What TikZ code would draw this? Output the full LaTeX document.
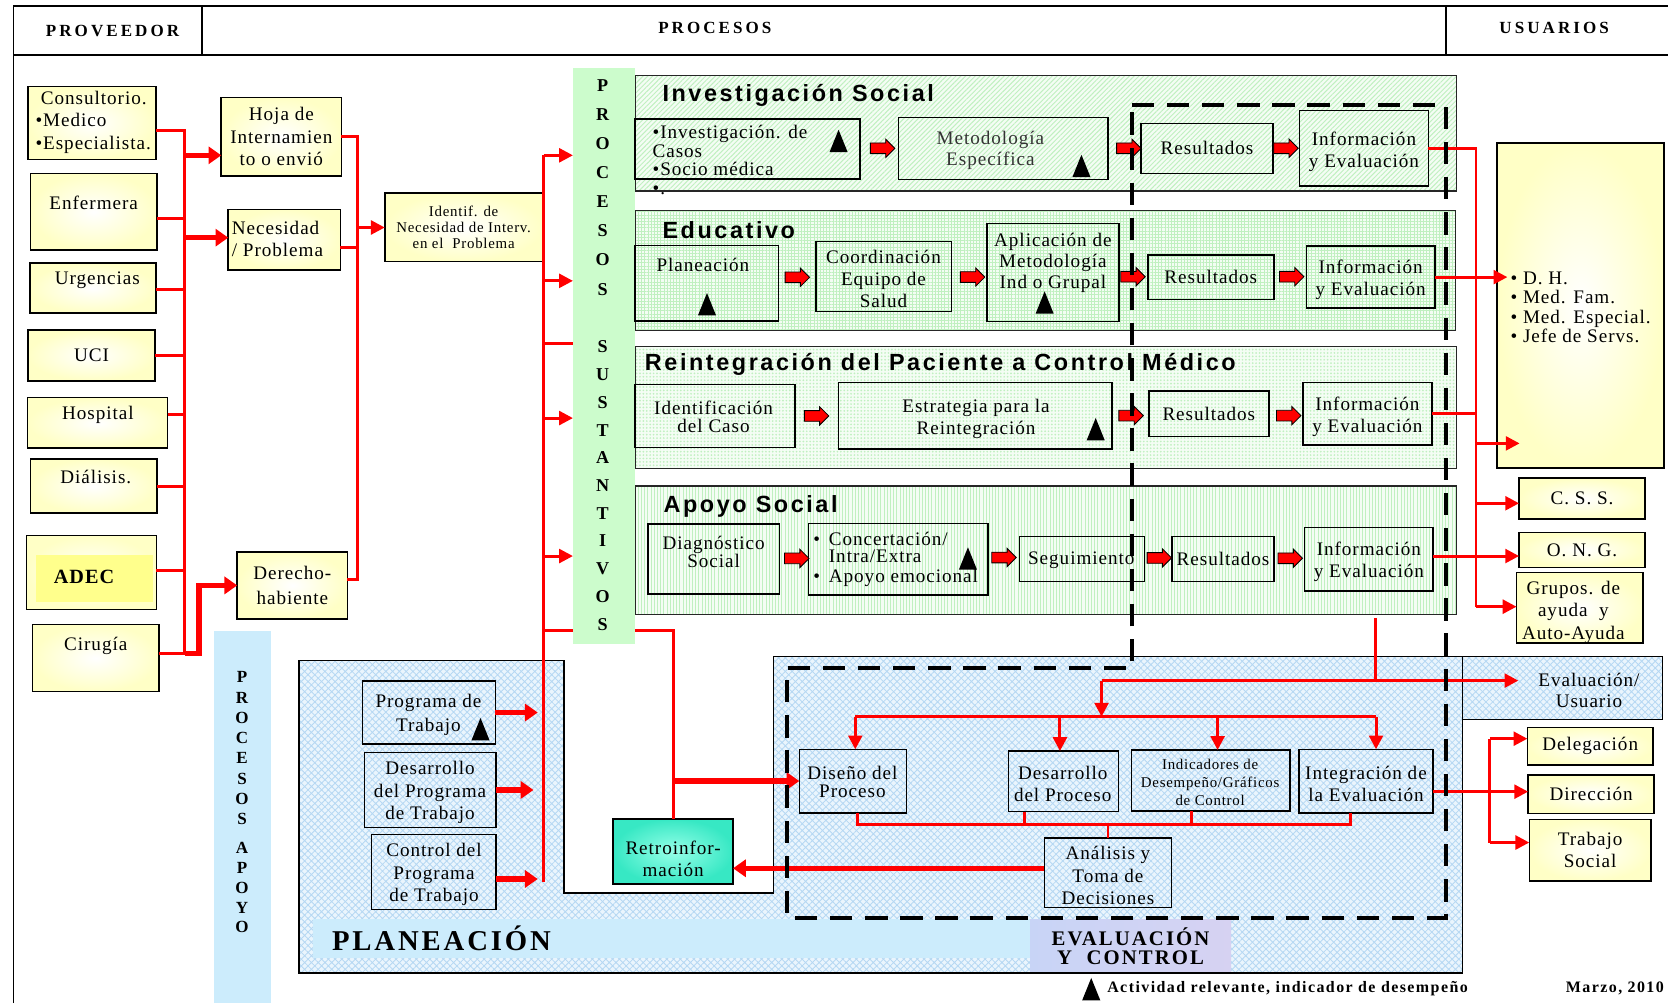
\documentclass[tikz,border=0pt]{standalone}
\usepackage{fontspec}
\setmainfont{Liberation Serif}[LetterSpace=5]
\newfontfamily\hdfont{Liberation Serif}[LetterSpace=18]
\newfontfamily\bigfont{Liberation Serif}[LetterSpace=10]
\newfontfamily\notefont{Liberation Serif}[LetterSpace=9]
\newfontfamily\titlefont{Liberation Sans}[LetterSpace=11]
\usetikzlibrary{arrows.meta,shapes.arrows,patterns.meta,calc}

\definecolor{ylw}{RGB}{255,255,198}
\definecolor{adecy}{RGB}{255,255,140}
\definecolor{bandg}{RGB}{204,252,204}
\definecolor{bandb}{RGB}{204,236,252}
\definecolor{hatchg}{RGB}{192,240,192}
\definecolor{paleg}{RGB}{244,253,244}
\definecolor{hatchb}{RGB}{182,216,243}
\definecolor{paleb}{RGB}{234,245,253}
\definecolor{mint}{RGB}{150,255,232}
\definecolor{tealx}{RGB}{55,232,196}
\definecolor{lavA}{RGB}{200,212,246}
\definecolor{lavB}{RGB}{214,210,242}
\definecolor{redl}{RGB}{255,0,0}

\newcommand\fz[2]{\fontsize{#1}{#2}\selectfont}
% box given by its corners: options, name, x1, y1, x2, y2, text
\newcommand\rbox[7][]{%
  \node[minimum width={(#5)-(#3)}, minimum height={(#6)-(#4)}, #1]
    (#2) at ({((#3)+(#5))/2},{((#4)+(#6))/2}) {#7};}

\begin{document}
\begin{tikzpicture}[x=1pt,y=-1pt,
  every node/.style={inner sep=0pt,outer sep=0pt},
  ybox/.style={draw=black,line width=1.5pt,inner color=white,outer color=ylw},
  wbox/.style={draw=black,line width=1.5pt},
  tx/.style={align=center,font=\fz{18}{21}},
  rowbox/.style={draw=black!85,line width=1.3pt},
  hatchblue/.style={preaction={fill=paleb},pattern={Hatch[angle=45,distance=4.5pt,line width=0.8pt]},pattern color=hatchb},
  rl/.style={draw=redl,line width=2.8pt},
  rlt/.style={draw=redl,line width=5pt},
  arr/.style={-{Triangle[length=13pt,width=13pt]}},
  arrt/.style={-{Triangle[length=12pt,width=16pt]}},
  blk/.style={single arrow,draw=black,line width=0.8pt,fill=redl,minimum height=23pt,
    inner xsep=0pt,inner ysep=4.6pt,single arrow head extend=3.6pt,single arrow head indent=0pt},
  dsh/.style={draw=black,line width=3.8pt,dash pattern=on 21pt off 12pt},
  hdr/.style={font=\hdfont\bfseries\fz{16}{18}},
  ttl/.style={anchor=west,font=\titlefont\bfseries\fz{22}{24}}]

\useasboundingbox (0,0) rectangle (1568,943);
\fill[white] (0,0) rectangle (1568,943);

% ---------- header frame ----------
\draw[line width=1.5pt] (12.6,943) -- (12.6,5.5) -- (1568,5.5);
\draw[line width=1.5pt] (12.6,51.7) -- (1568,51.7);
\draw[line width=1.5pt] (190,5.5) -- (190,51.7);
\draw[line width=1.5pt] (1359.5,5.5) -- (1359.5,51.7);
\node[hdr] (hprov) at (105.8,28.8) {PROVEEDOR};
\node[hdr] (hproc) at (672,26.5) {PROCESOS};
\node[hdr] (husr) at (1461,26.6) {USUARIOS};

% ---------- process rows ----------
\rbox[rowbox,preaction={fill=paleg},pattern={Lines[angle=45,distance=3.2pt,line width=0.9pt]},pattern color=hatchg]{row1}{597}{71.1}{1369.3}{179.5}{}
\rbox[rowbox,preaction={fill=paleg},pattern={Hatch[angle=0,distance=3pt,line width=0.5pt]},pattern color=hatchg]{row2}{597}{198}{1368.4}{310.5}{}
\rbox[rowbox,preaction={fill=paleg},pattern={Dots[distance=3.2pt,radius=0.9pt]},pattern color=hatchg]{row3}{597}{325.5}{1369.3}{440.2}{}
\rbox[rowbox,preaction={fill=paleg},pattern={Lines[angle=90,distance=3pt,line width=0.8pt]},pattern color=hatchg]{row4}{597}{456.7}{1369}{577.5}{}
\node[ttl] (t1) at (622.8,89.5) {Investigación Social};
\node[ttl] (t2) at (622.8,216.2) {Educativo};
\node[ttl] (t3) at (606.3,342.5) {Reintegración del Paciente a Control Médico};
\node[ttl] (t4) at (623.8,476.5) {Apoyo Social};

% ---------- planning / evaluation area ----------
\path[draw=black,line width=1.4pt,hatchblue]
  (281,621) -- (530,621) -- (530,839.5) -- (727,839.5) -- (727,617.3)
  -- (1374.6,617.3) -- (1374.6,914.6) -- (281,914.6) -- cycle;
\rbox[draw=black,line width=1.4pt,hatchblue]{evu}{1374.6}{617.3}{1563}{676.2}{}
\node[tx,font=\fz{18}{20.4}] (evu-t) at (1493.7,649) {Evaluación/\\Usuario};
\rbox[fill=bandb]{plband}{294.1}{863.9}{968.3}{900.9}{}
\node[anchor=west,font=\bigfont\bfseries\fz{27}{30}] (plt) at (312.1,882) {PLANEACIÓN};
\rbox[left color=lavA,right color=lavB]{evband}{968.3}{864.8}{1157.2}{913.4}{}
\node[align=center,font=\bigfont\bfseries\fz{19.5}{17.2}] (evt) at (1062.7,889.5) {EVALUACIÓN\\Y\ \ CONTROL};

% ---------- vertical bands ----------
\rbox[fill=bandg]{gband}{538.6}{64.2}{597}{605.7}{}
\node[align=center,font=\bfseries\fz{17}{27.4}] (gtxt1) at (566.5,176) {P\\R\\O\\C\\E\\S\\O\\S};
\node[align=center,font=\bfseries\fz{17}{26.07}] (gtxt2) at (566.5,456.5) {S\\U\\S\\T\\A\\N\\T\\I\\V\\O\\S};
\rbox[fill=bandb]{aband}{201}{593}{255}{943}{}
\node[align=center,font=\bfseries\fz{16}{19.04}] (atxt1) at (227.5,703.4) {P\\R\\O\\C\\E\\S\\O\\S};
\node[align=center,font=\bfseries\fz{16}{18.6}] (atxt2) at (227.5,834.6) {A\\P\\O\\Y\\O};

% ---------- providers ----------
\rbox[ybox]{cons}{26.2}{81.5}{146.4}{149.8}{}
\node[tx,align=left,anchor=west] (cons-t) at (33.4,115) {\hspace*{5pt}Consultorio.\\•Medico\\•Especialista.};
\rbox[ybox]{enf}{28.7}{163}{147.5}{235}{}
\node[tx] (enf-t) at (88.1,190.5) {Enfermera};
\rbox[ybox]{urg}{28}{247.5}{146.4}{294.5}{}
\node[tx] (urg-t) at (91.5,263) {Urgencias};
\rbox[ybox,tx]{uci}{26.3}{310}{145.8}{358}{UCI}
\rbox[ybox]{hosp}{26}{373.8}{157.5}{421.4}{}
\node[tx] (hosp-t) at (92.1,390) {Hospital};
\rbox[ybox]{dial}{28.8}{431.5}{147.5}{482.5}{}
\node[tx] (dial-t) at (90,448.1) {Diálisis.};
\rbox[ybox]{adec}{25}{503.5}{147}{572.8}{}
\rbox[fill=adecy]{adec-in}{33.5}{521.7}{144}{565.6}{}
\node[font=\bfseries\fz{19}{21}] (adec-t) at (79,542.7) {ADEC};
\rbox[ybox]{cir}{30.6}{587.2}{149.3}{650}{}
\node[tx] (cir-t) at (90,607.5) {Cirugía};

% ---------- intake ----------
\rbox[ybox,tx,font=\fz{18}{21.2}]{hoja}{208}{91.8}{321}{165.4}{Hoja de\\Internamien\\to o envió}
\rbox[ybox]{neces}{214.6}{196.8}{320}{253.8}{}
\node[tx,align=left,anchor=west,font=\fz{18}{20.3}] (neces-t) at (218,224.5) {Necesidad\\/ Problema};
\rbox[ybox,tx,font=\fz{14}{15}]{ident}{361.7}{181.7}{510}{246}{Identif. de\\Necesidad de Interv.\\en el\ \ Problema}
\rbox[ybox,tx,font=\fz{18}{22.8}]{derech}{223}{519}{326.6}{581.6}{Derecho-\\habiente}

% ---------- Investigación Social ----------
\rbox[wbox]{r1a}{597}{111.9}{808.4}{168.3}{}
\node[tx,align=left,anchor=west,font=\fz{18}{17.6}] (r1a-t) at (613.5,150.5) {•Investigación. de\\Casos\\•Socio médica\\•.};
\rbox[wbox]{r1b}{844.7}{110.6}{1041.8}{168.6}{}
\node[tx,font=\fz{18}{19.7},text=black!80] (r1b-t) at (931,141) {Metodología\\Específica};
\rbox[wbox,tx]{r1res}{1072.6}{116}{1196.7}{163}{Resultados}
\rbox[wbox]{r1inf}{1221.7}{104}{1342.8}{174.8}{}
\node[tx,font=\fz{18}{20.6}] (r1inf-t) at (1282.2,142.5) {Información\\y Evaluación};

% ---------- Educativo ----------
\rbox[wbox]{r2a}{597}{230.9}{731.9}{301.7}{}
\node[tx] (r2a-t) at (660.7,249.5) {Planeación};
\rbox[wbox]{r2b}{766.8}{227.2}{894.3}{293}{}
\node[tx,font=\fz{18}{20.7}] (r2b-t) at (830.5,262.5) {Coordinación\\Equipo de\\Salud};
\rbox[wbox]{r2c}{927.6}{210}{1051.9}{302.4}{}
\node[tx,font=\fz{18}{20}] (r2c-t) at (989.75,247) {Aplicación de\\Metodología\\Ind o Grupal};
\rbox[wbox,tx]{r2res}{1079}{239.7}{1197.4}{281.4}{Resultados}
\rbox[wbox]{r2inf}{1228}{231.2}{1349}{289.8}{}
\node[tx,font=\fz{18}{20.7}] (r2inf-t) at (1288.5,263) {Información\\y Evaluación};

% ---------- Reintegración ----------
\rbox[wbox]{r3a}{597}{361.3}{747.3}{420.5}{}
\node[tx,font=\fz{18}{16.6}] (r3a-t) at (670.8,392) {Identificación\\del Caso};
\rbox[wbox]{r3b}{788.3}{359.7}{1045.1}{422}{}
\node[tx,font=\fz{18}{21}] (r3b-t) at (917.5,393.5) {Estrategia para la\\Reintegración};
\rbox[wbox,tx]{r3res}{1080}{367.5}{1192.7}{410.5}{Resultados}
\rbox[wbox]{r3inf}{1224.7}{359.7}{1346.2}{418.3}{}
\node[tx,font=\fz{18}{20.7}] (r3inf-t) at (1285.45,391.5) {Información\\y Evaluación};

% ---------- Apoyo Social ----------
\rbox[wbox]{r4a}{609.3}{492.6}{732.8}{558.4}{}
\node[tx,font=\fz{18}{16.6}] (r4a-t) at (670.8,519) {Diagnóstico\\Social};
\rbox[wbox]{r4b}{760.1}{492}{928.7}{559.3}{}
\node[tx,align=left,anchor=west,font=\fz{18}{15.7}] (r4b-t) at (764.5,526)
  {\makebox[14.7pt][l]{•}Concertación/\\\hspace*{14.7pt}Intra/Extra\\[3.1pt]\makebox[14.7pt][l]{•}Apoyo emocional};
\rbox[wbox]{r4c}{958.2}{504.3}{1075.7}{546.7}{}
\node[tx] (r4c-t) at (1016.5,527) {Seguimiento};
\rbox[wbox,tx]{r4res}{1102}{504.5}{1197.4}{546.8}{Resultados}
\rbox[wbox]{r4inf}{1226.4}{496}{1347.2}{555.3}{}
\node[tx,font=\fz{18}{21}] (r4inf-t) at (1286.8,528) {Información\\y Evaluación};

% ---------- users ----------
\rbox[ybox]{dh}{1407.5}{134.7}{1564}{440.2}{}
\node[tx,align=left,anchor=west,font=\fz{18}{18}] (dh-t) at (1420,289) {•\ D. H.\\•\ Med. Fam.\\•\ Med. Especial.\\•\ Jefe de Servs.};
\rbox[ybox,tx]{css}{1428}{449.6}{1546.4}{487.9}{C. S. S.}
\rbox[ybox,tx]{ong}{1428}{500.7}{1546.4}{533.3}{O. N. G.}
\rbox[ybox]{grp}{1425.6}{538.3}{1544.7}{604.7}{}
\node[tx,font=\fz{18}{21.2}] (grp-t) at (1479,575.5) {Grupos. de\\ayuda\ \ y\\Auto-Ayuda};
\rbox[ybox,tx]{del}{1435.8}{683.7}{1553.9}{719.4}{Delegación}
\rbox[ybox,tx]{dir}{1436.5}{728.5}{1554.9}{764.6}{Dirección}
\rbox[ybox,tx,font=\fz{18}{20.4}]{trab}{1437.6}{770.2}{1552}{828.2}{Trabajo\\Social}

% ---------- evaluation and control ----------
\rbox[wbox]{dis}{751.4}{704.4}{852}{764}{}
\node[tx,font=\fz{18}{16.6}] (dis-t) at (801.3,735) {Diseño del\\Proceso};
\rbox[wbox]{des}{948.2}{706}{1051.4}{763}{}
\node[tx,font=\fz{18}{21}] (des-t) at (999,737) {Desarrollo\\del Proceso};
\rbox[wbox]{ind}{1063.6}{705}{1212.6}{762.4}{}
\node[tx,font=\fz{14}{16.5}] (ind-t) at (1137.6,735.5) {Indicadores de\\Desempeño/Gráficos\\de Control};
\rbox[wbox]{intg}{1221}{704.4}{1347.2}{764}{}
\node[tx,font=\fz{18}{21}] (intg-t) at (1284.1,737) {Integración de\\la Evaluación};
\rbox[wbox]{ana}{981.8}{788}{1101.3}{852.9}{}
\node[tx,font=\fz{18}{20.8}] (ana-t) at (1041.5,823) {Análisis y\\Toma de\\Decisiones};
\rbox[draw=black,line width=1.5pt,inner color=mint,outer color=tealx]{retro}{576.5}{769.9}{689.1}{831}{}
\node[tx,font=\fz{18}{21.3}] (retro-t) at (632.8,807.5) {Retroinfor-\\mación};

% ---------- planning ----------
\rbox[wbox]{prog}{340.9}{640.2}{465.7}{699.4}{}
\node[tx,font=\fz{18}{22.3}] (prog-t) at (402.8,672) {Programa de\\Trabajo};
\rbox[wbox]{dprog}{342.7}{707.2}{466}{778}{}
\node[tx,font=\fz{18}{21.2}] (dprog-t) at (404.3,745) {Desarrollo\\del Programa\\de Trabajo};
\rbox[wbox]{cprog}{349.1}{784.3}{466}{855.1}{}
\node[tx,font=\fz{18}{21.3}] (cprog-t) at (408,822) {Control del\\Programa\\de Trabajo};

% ---------- connectors: providers to intake ----------
\coordinate (b1t) at (173.5,122.8);
\coordinate (b1b) at (173.5,614);
\draw[rl] ([yshift=-7.15pt]cons.east) -| (b1b);
\foreach \bx/\sh in {enf/-6.2,urg/-1,uci/0,hosp/7.6,dial/0,adec/1.6} {
  \coordinate (\bx-o) at ([yshift=\sh pt]\bx.east);
  \draw[rl] (\bx-o) -- (\bx-o -| b1t);
}
\coordinate (hoja-i) at ([yshift=-17.4pt]hoja.west);
\coordinate (neces-i) at ([yshift=1.9pt]neces.west);
\draw[rlt,arrt] (b1t |- hoja-i) -- (hoja-i);
\draw[rlt,arrt] (b1t |- neces-i) -- (neces-i);
\coordinate (cir-o) at ([yshift=4.6pt]cir.east);
\draw[rl] (cir-o) -- (cir-o -| b1t);
\draw[rlt,arrt] (cir-o -| b1t) -| ($(derech.west)+(-36,0)$) -- (derech.west);

\coordinate (b2t) at (336,128.6);
\coordinate (b2b) at (336,545.2);
\draw[rl] (hoja.east) -| (b2b) -- ([yshift=5.1pt]derech.east);
\coordinate (neces-o) at ([yshift=-7.5pt]neces.east);
\draw[rl] (neces-o) -- (neces-o -| b2t);
\draw[rl,arr] (b2t |- ident.west) -- (ident.west);

% ---------- connectors: main bus into the processes ----------
\coordinate (b3t) at (511,146);
\coordinate (b3b) at (511,828.8);
\draw[rl] (b3t) -- (b3b);
\foreach \yy/\nm in {146/g1,264/g2,393/g3,522.7/g4} {
  \coordinate (\nm) at (511,\yy);
  \draw[rl,arr] (\nm) -- (gband.west |- \nm);
}
\coordinate (g5) at (511,322.5);
\draw[rl] (g5) -- (gband.west |- g5);
\coordinate (g6) at (511,593);
\draw[rl] (g6) -- (gband.west |- g6);
\draw[rl] (gband.east |- g6) -| (retro.north);
\coordinate (rj) at (retro.north |- dis.west);
\draw[rlt,arrt] (rj) -- (dis.west);

\draw[rlt,arrt,shorten >=5.5pt] (prog.east) -- (prog.east -| b3t);
\draw[rlt,arrt,shorten >=9.5pt] (dprog.east) -- (dprog.east -| b3t);
\coordinate (cprog-o) at ([yshift=-6.6pt]cprog.east);
\draw[rlt,arrt,shorten >=5.5pt] (cprog-o) -- (cprog-o -| b3t);

% ---------- connectors: results to users ----------
\coordinate (v1) at (1387.5,138.5);
\coordinate (v2) at (1387.5,570.3);
\coordinate (v3) at (1387.5,416.8);
\coordinate (v4) at (1387.5,473.1);
\draw[rl] (r1inf.east) -| (v2);
\draw[rl] (r3inf.east) -- (r3inf.east -| v1);
\draw[rl,arr,shorten >=-9.5pt] (r2inf.east) -- (dh.west |- r2inf.east);
\draw[rl,arr,shorten >=-21pt] (v3) -- (dh.west |- v3);
\draw[rl,arr] (v4) -- (css.west |- v4);
\coordinate (r4inf-o) at ([yshift=2.95pt]r4inf.east);
\draw[rl,arr] (r4inf-o) -- (ong.west |- r4inf-o);
\draw[rl,arr] (v2) -- (grp.west |- v2);

% ---------- connectors: evaluation ----------
\coordinate (ev0) at (1292.8,581.3);
\coordinate (ev1) at (1292.8,639.8);
\coordinate (ev2) at (1035.5,639.8);
\coordinate (ev3) at (1035.5,673.7);
\draw[rl] (ev0) -- (ev1);
\draw[rl,arr,shorten >=-52.7pt] (ev2) -- (evu.west |- ev2);
\draw[rl,arr] (ev2) -- (ev3);
\coordinate (n1) at ([xshift=2.3pt]dis.north);
\coordinate (n2) at ([xshift=-3.4pt]des.north);
\coordinate (n3) at ([xshift=6.5pt]ind.north);
\coordinate (n4) at ([xshift=9.4pt]intg.north);
\draw[rl] (n1 |- ev3) -- (n4 |- ev3);
\foreach \n in {n1,n2,n3,n4} \draw[rl,arr] (\n |- ev3) -- (\n);

\coordinate (k1) at ([xshift=4.2pt]dis.south);
\coordinate (k2) at ([xshift=-36.5pt]des.south);
\coordinate (k3) at ([xshift=-17.9pt]ind.south);
\coordinate (k4) at ([xshift=-14.9pt]intg.south);
\coordinate (kc) at (805.9,774.9);
\draw[rl] (k1) -- (k1 |- kc) -- (k4 |- kc) -- (k4);
\draw[rl] (k2) -- (k2 |- kc);
\draw[rl] (k3) -- (k3 |- kc);
\draw[rl] (ana.north |- kc) -- (ana.north);
\coordinate (ana-o) at ([yshift=4.25pt]ana.west);
\draw[rlt,arrt] (ana-o) -- (retro.east |- ana-o);

\coordinate (w0) at (1400.6,694.4);
\coordinate (w1) at (1400.6,792);
\coordinate (intg-o) at ([yshift=-10pt]intg.east);
\draw[rl,arr] (intg-o) -- (dir.west |- intg-o);
\draw[rl] (w0) -- (w1);
\draw[rl,arr] (w0) -- (del.west |- w0);
\draw[rl,arr] (w1) -- (trab.west |- w1);

% ---------- block arrows between steps ----------
\foreach \ax/\ay [count=\i] in {827.2/139.4,1058.7/139.4,1206.35/139.4,
    747/260.7,911.8/260.4,1062.6/260.1,1211.75/260.1,
    765.1/391,1060.8/390.7,1209/390.7,
    746.5/524.9,941.3/524.1,1087.35/524.5,1210.4/524.8}
  \node[blk] (ba\i) at (\ax,\ay) {};

% ---------- dashed evaluation boundary ----------
\draw[dsh] (1064,98.7) -- (1359.2,98.7) -- (1359.2,862.6) -- (739.6,862.6)
  -- (739.6,628.3) -- (1064,628.3) -- cycle;

% ---------- relevant-activity markers ----------
\foreach \px/\py in {788.3/132.5,1016.6/156,664.6/286,982/284.4,1030/403.4,
    909.9/525,451.7/685.4,1025.8/929.8}
  \fill[black] (\px-8.5,\py+10.5) -- (\px,\py-10.5) -- (\px+8.5,\py+10.5) -- cycle;

\node[anchor=west,font=\notefont\bfseries\fz{15}{17}] (legend) at (1040.9,929.5) {Actividad relevante, indicador de desempeño};
\node[anchor=west,font=\notefont\bfseries\fz{15}{17}] (fecha) at (1472,929) {Marzo, 2010};
\end{tikzpicture}
\end{document}
